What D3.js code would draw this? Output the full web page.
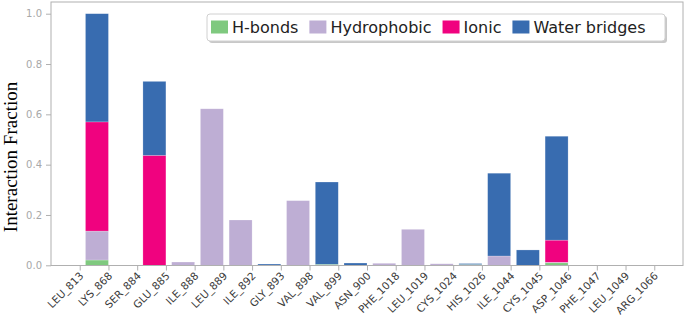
<!DOCTYPE html>
<html><head><meta charset="utf-8">
<script src="https://cdn.jsdelivr.net/npm/d3@7"></script>
<style>body{margin:0;background:#fff}svg{display:block}</style>
</head><body>
<svg id="c" width="685" height="329"></svg>
<script>
const categories = ["LEU_813","LYS_868","SER_884","GLU_885","ILE_888","LEU_889","ILE_892","GLY_893","VAL_898","VAL_899","ASN_900","PHE_1018","LEU_1019","CYS_1024","HIS_1026","ILE_1044","CYS_1045","ASP_1046","PHE_1047","LEU_1049","ARG_1066"];
const hbonds      = [0, 0.021, 0, 0, 0, 0, 0, 0, 0, 0.004, 0, 0, 0, 0, 0.003, 0, 0, 0.010, 0, 0, 0];
const hydrophobic = [0, 0.115, 0, 0, 0.013, 0.622, 0.180, 0, 0.257, 0, 0, 0.008, 0.143, 0.006, 0, 0.037, 0, 0.002, 0, 0, 0];
const ionic       = [0, 0.434, 0, 0.437, 0, 0, 0, 0, 0, 0, 0, 0, 0, 0, 0, 0, 0, 0.088, 0, 0, 0];
const water       = [0, 0.430, 0, 0.294, 0, 0, 0, 0.005, 0, 0.327, 0.009, 0, 0, 0, 0.004, 0.329, 0.061, 0.413, 0, 0, 0];
const seriesNames = ["H-bonds","Hydrophobic","Ionic","Water bridges"];
const seriesColors = ["#7fc97f","#beaed4","#f0027f","#386cb0"];
const yTicks = [0.0, 0.2, 0.4, 0.6, 0.8, 1.0];

const svg = d3.select("#c");
const L = 51, R = 683, T = 2, B = 265.5;
const x = d3.scaleLinear().domain([-1, categories.length]).range([L, R]);
const y = d3.scaleLinear().domain([0, 1]).range([265.3, 13.7]);

const rows = categories.map((c, i) => ({cat: c, i, "H-bonds": hbonds[i], "Hydrophobic": hydrophobic[i], "Ionic": ionic[i], "Water bridges": water[i]}));
const stack = d3.stack().keys(seriesNames)(rows);

const g = svg.append("g");
stack.forEach((layer, k) => {
  g.selectAll(null).data(layer).enter().append("rect")
    .attr("x", d => x(d.data.i - 0.8))
    .attr("width", d => x(d.data.i) - x(d.data.i - 0.8))
    .attr("y", d => y(d[1]))
    .attr("height", d => Math.max(0, y(d[0]) - y(d[1])))
    .attr("fill", seriesColors[k])
    .attr("stroke", "rgba(255,255,255,0.35)")
    .attr("stroke-width", 0.6);
});

// spines
svg.append("rect").attr("x", L).attr("y", T).attr("width", R - L).attr("height", B - T)
  .attr("fill", "none").attr("stroke", "#b0b0b0").attr("stroke-width", 1);

// y axis
const yAxis = svg.append("g").attr("transform", `translate(${L},0)`)
  .call(d3.axisLeft(y).tickValues(yTicks).tickFormat(d3.format(".1f")).tickSize(5).tickPadding(4));
yAxis.select(".domain").remove();
yAxis.selectAll("line").attr("stroke", "#b0b0b0");
yAxis.selectAll("text").attr("fill", "#a8a8a8").style("font-family", "DejaVu Sans").style("font-size", "10px");

// x axis
const xAxis = svg.append("g").attr("transform", `translate(0,${B})`)
  .call(d3.axisBottom(x).tickValues(d3.range(categories.length)).tickFormat(i => categories[i]).tickSize(5));
xAxis.select(".domain").remove();
xAxis.selectAll("line").attr("stroke", "#b0b0b0");
xAxis.selectAll("text")
  .attr("fill", "#3a3a3a").style("font-family", "DejaVu Sans").style("font-size", "10.5px")
  .attr("text-anchor", "end").attr("dy", null).attr("y", 0)
  .attr("transform", "translate(4,11) rotate(-45)");

// y label
svg.append("text").attr("transform", "translate(17,157) rotate(-90)")
  .attr("text-anchor", "middle").style("font-family", "Liberation Serif").style("font-size", "19px")
  .attr("fill", "#000").text("Interaction Fraction");

// legend
const lg = svg.append("g");
const lx = 207, ly = 14, lw = 458, lh = 27;
lg.append("rect").attr("x", lx + 2).attr("y", ly + 2).attr("width", lw).attr("height", lh).attr("rx", 3).attr("fill", "#c8c8c8");
lg.append("rect").attr("x", lx).attr("y", ly).attr("width", lw).attr("height", lh).attr("rx", 3).attr("fill", "#fff").attr("stroke", "#d0d0d0");
let cx = lx + 4;
seriesNames.forEach((n, k) => {
  lg.append("rect").attr("x", cx).attr("y", ly + 6.5).attr("width", 17).attr("height", 13).attr("fill", seriesColors[k]);
  const t = lg.append("text").attr("x", cx + 21).attr("y", ly + 19).style("font-family", "DejaVu Sans").style("font-size", "16px").attr("fill", "#222").text(n);
  cx += 21 + t.node().getComputedTextLength() + 11;
});
</script>
</body></html>
